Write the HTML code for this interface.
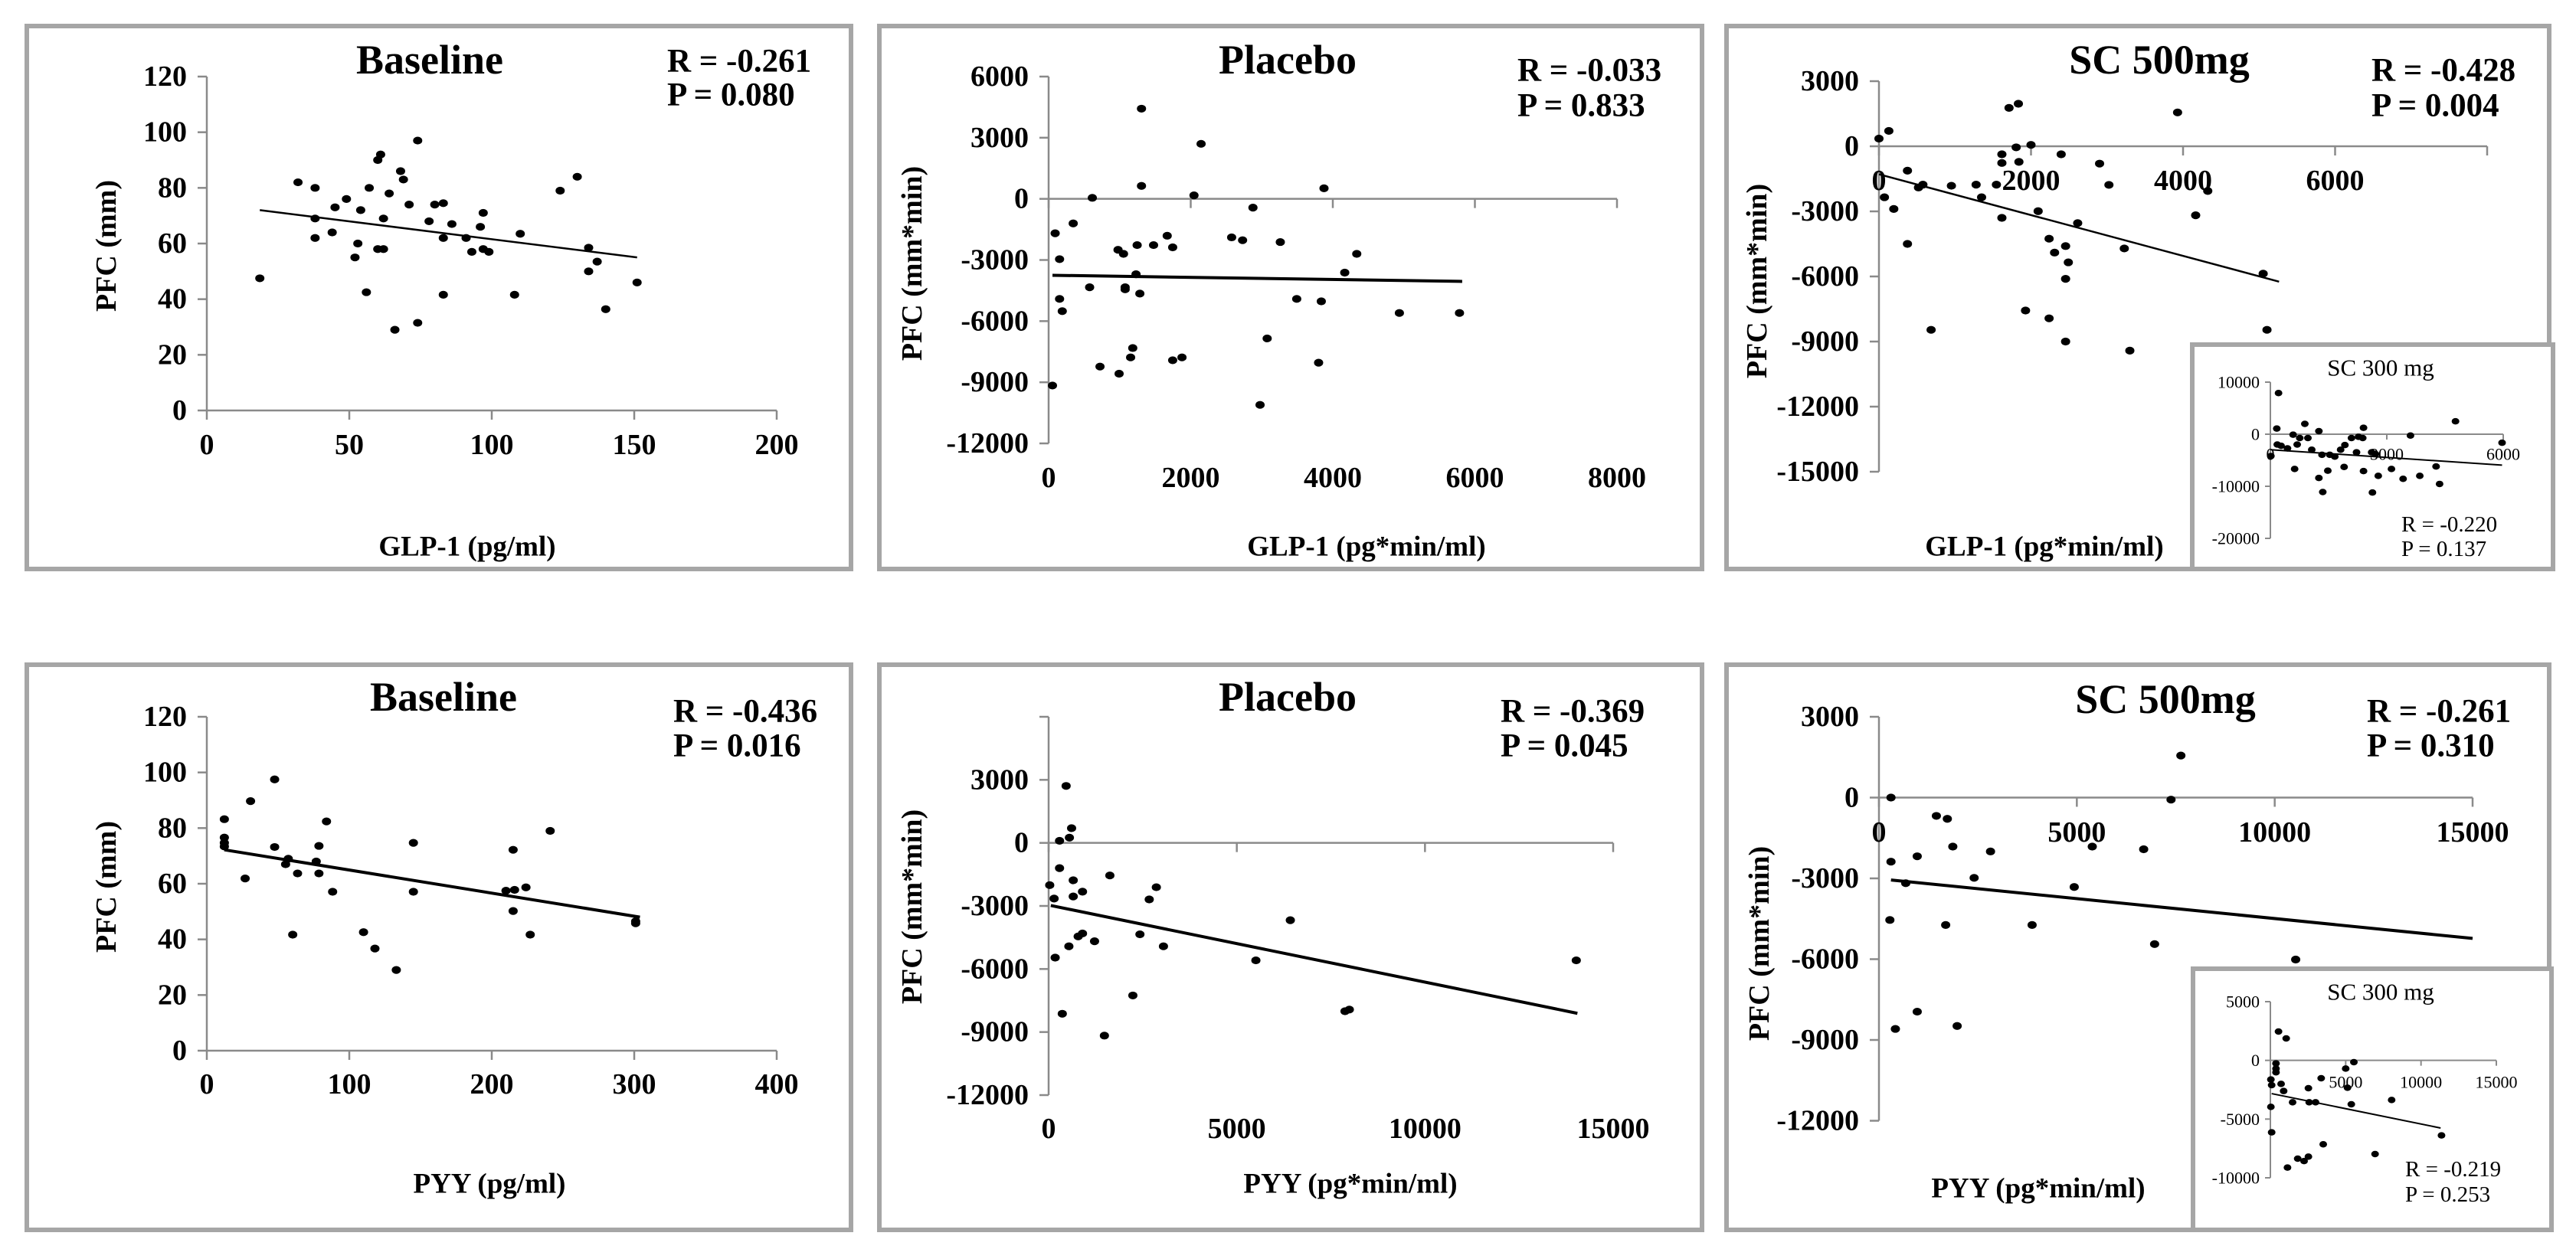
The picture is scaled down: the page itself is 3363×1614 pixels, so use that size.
<!DOCTYPE html>
<html><head><meta charset="utf-8"><title>PFC correlations</title>
<style>
html,body{margin:0;padding:0;background:#fff;}
svg{display:block;font-family:"Liberation Serif",serif;}
</style></head>
<body>
<svg id="chart" width="3363" height="1614" viewBox="0 0 3363 1614" xmlns="http://www.w3.org/2000/svg">
<rect x="0" y="0" width="3363" height="1614" fill="#fff"/>
</svg>
<script>
// ---------- data ----------
const p1X = [18.6,32,38,38,38,45,44,49,53,52,54,57,56,60,61,60,62,62,64,66,68,69,71,74,74,78,80,83,83,83,86,91,93,96,97,97,99,108,110,124,130,134,134,137,140,151];
const p1Y = [47.5,82,80,69,62,73,64,76,60,55,72,80,42.5,90,92,58,58,69,78,29,86,83,74,97,31.5,68,74,74.5,62,41.6,67,62,57,66,71,58,57,41.6,63.5,79,84,58.5,50,53.5,36.4,46];
const p1TrendX = [18.6,151];
const p1TrendY = [72,55];

const p2X = [54,92,154,154,192,346,577,615,723,977,992,1054,1077,1077,1154,1184,1230,1246,1284,1307,1307,1477,1669,1746,1746,1877,2046,2146,2576,2730,2876,2976,3076,3261,3492,3800,3838,3876,4168,4337,4937,5783];
const p2Y = [-9160,-1690,-2960,-4910,-5510,-1205,-4340,50,-8230,-2500,-8580,-2700,-4340,-4440,-7780,-7320,-3700,-2270,-4650,4425,637,-2270,-1810,-2380,-7920,-7780,172,2700,-1890,-2030,-430,-10110,-6850,-2120,-4910,-8040,-5030,517,-3620,-2700,-5600,-5600];
const p2TrendX = [54,5821];
const p2TrendY = [-3750,-4050];

const p3X = [0,130,72,195,375,375,520,578,686,953,1278,1350,1545,1617,1617,1617,1711,1834,1805,1841,2000,1928,2094,2238,2238,2310,2397,2455,2491,2455,2455,2614,2902,3025,3227,3300,3928,4166,4325,5054,5104];
const p3Y = [354,708,-2350,-2890,-1125,-4500,-1900,-1770,-8460,-1820,-1770,-2350,-1770,-370,-770,-3300,1770,1960,-50,-720,64,-7570,-2990,-7930,-4260,-4900,-370,-4600,-5350,-6110,-9000,-3540,-800,-1780,-4710,-9420,1560,-3180,-2060,-5870,-8460];
const p3TrendX = [0,5263];
const p3TrendY = [-1290,-6240];

const in1X = [210,165,13,178,276,441,586,625,691,757,888,967,1066,1250,1250,1350,1330,1480,1530,1660,1810,1900,1920,2090,2220,2270,2380,2400,2400,2610,2710,2630,2780,3120,3420,3610,3850,4270,4360,4770,5970];
const in1Y = [7900,1090,-4200,-1980,-2230,-2720,-100,-6680,-1980,-740,1980,-740,-2970,590,-8400,-11100,-3960,-7000,-3960,-4300,-2970,-6280,-2080,-740,-3470,-490,-740,1240,-7080,-3470,-3810,-11200,-8000,-6680,-8560,-250,-8000,-6190,-9550,2475,-1630];
const in1TrendX = [0,5970];
const in1TrendY = [-2970,-5940];

const p4X = [12.3,12.3,12.3,12.3,26.9,30.7,47.6,47.6,55.3,57.2,60.3,63.7,76.8,78.7,78.7,84,88.3,110,118,133,145,145,210,215,216,215,224,227,241,301,301];
const p4Y = [83.2,76.6,74.7,73.4,61.9,89.7,97.5,73.2,67,69,41.7,63.7,68,73.6,63.7,82.4,57.1,42.6,36.7,29,74.7,57.1,57.5,72.2,57.8,50.2,58.7,41.7,79,46.5,45.8];
const p4TrendX = [12.3,304];
const p4TrendY = [72.2,48];

const p5X = [29,145,174,290,290,363,465,552,610,538,654,654,785,900,900,1220,1482,1627,2238,2426,2673,2862,3051,5507,6422,7875,7990,14020];
const p5Y = [-2010,-2650,-5460,100,-1200,-8130,2710,250,700,-4920,-1780,-2550,-4450,-4310,-2320,-4680,-9170,-1550,-7260,-4350,-2690,-2110,-4920,-5590,-3680,-8010,-7930,-5590];
const p5TrendX = [58,14050];
const p5TrendY = [-2980,-8110];

const p6X = [304,304,276,415,677,967,967,1451,1728,1686,1866,1976,2405,2819,3870,4934,5390,6689,6965,7380,7629,10530];
const p6Y = [0,-2380,-4545,-8590,-3180,-2180,-7950,-680,-790,-4730,-1820,-8480,-2980,-2000,-4730,-3320,-1820,-1920,-5440,-76,1560,-6015];
const p6TrendX = [304,15000];
const p6TrendY = [-3060,-5230];

const in2X = [540,1050,373,373,373,34,85,712,881,1475,2525,2576,3000,3373,34,85,1136,1814,2237,2525,3509,5000,5543,5119,5373,6950,8050,11360];
const in2Y = [2460,1870,-260,-700,-1020,-1630,-2110,-2000,-2610,-3570,-2370,-3570,-3570,-1520,-3960,-6130,-9130,-8370,-8570,-8200,-7150,-700,-150,-2330,-3740,-7980,-3370,-6390];
const in2TrendX = [85,11300];
const in2TrendY = [-2830,-5760];

// tick values / labels
const p1XTicks = [0,50,100,150,200];
const p1YTicks = [0,20,40,60,80,100,120];
const p2XTicks = [0,2000,4000,6000,8000];
const p2YTicks = [6000,3000,0,-3000,-6000,-9000,-12000];
const p3XTicks = [0,2000,4000,6000,8000];
const p3XLabels = [0,2000,4000,6000];
const p3YTicks = [3000,0,-3000,-6000,-9000,-12000,-15000];
const in1XTicks = [0,3000,6000];
const in1XLabels = [0,3000,6000];
const in1YTicks = [10000,0,-10000,-20000];
const p4XTicks = [0,100,200,300,400];
const p4YTicks = [0,20,40,60,80,100,120];
const p5XTicks = [0,5000,10000,15000];
const p5YTicks = [6000,3000,0,-3000,-6000,-9000,-12000];
const p5YLabels = [3000,0,-3000,-6000,-9000,-12000];
const p6XTicks = [0,5000,10000,15000];
const p6YTicks = [3000,0,-3000,-6000,-9000,-12000];
const in2XTicks = [0,5000,10000,15000];
const in2XLabels = [5000,10000,15000];
const in2YTicks = [5000,0,-5000,-10000];

// ---------- drawing ----------
const NS = 'http://www.w3.org/2000/svg';
const svg = document.getElementById('chart');
function mk(tag, attrs, parent) {
  const e = document.createElementNS(NS, tag);
  for (const k in attrs) e.setAttribute(k, attrs[k]);
  (parent || svg).appendChild(e);
  return e;
}
function box(x, y, w, h, bw, name) {
  const r = mk('rect', {x: x + bw / 2, y: y + bw / 2, width: w - bw, height: h - bw, fill: '#fff', stroke: '#a6a6a6', 'stroke-width': bw});
  
  
  return r;
}
function txt(x, y, s, size, weight, anchor, name, rot) {
  const t = mk('text', {x: x, y: y, 'font-size': size, 'font-weight': weight, 'text-anchor': anchor, 'dominant-baseline': 'central', fill: '#000'});
  if (rot) t.setAttribute('transform', 'rotate(-90 ' + x + ' ' + y + ')');
  t.textContent = s;
  
  
  return t;
}
function plot(cfg, xs, ys, tx, ty, xTicks, yTicks, xLabels, yLabels) {
  const g = mk('g', {});
  
  
  const sx = v => cfg.px0 + (v - cfg.xmin) / (cfg.xmax - cfg.xmin) * (cfg.px1 - cfg.px0);
  const sy = v => cfg.py0 + (cfg.ymax - v) / (cfg.ymax - cfg.ymin) * (cfg.py1 - cfg.py0);
  const axY = sy(cfg.xAxisAt);
  const tl = cfg.tickLen;
  const yTop = sy(Math.max(...yTicks)), yBot = sy(Math.min(...yTicks));
  const ya = mk('line', {x1: cfg.px0, y1: yTop, x2: cfg.px0, y2: yBot, stroke: '#8a8a8a', 'stroke-width': cfg.axisW}, g);
  
  
  const xa = mk('line', {x1: cfg.px0, y1: axY, x2: sx(Math.max(...xTicks)), y2: axY, stroke: '#8a8a8a', 'stroke-width': cfg.axisW}, g);
  
  
  yTicks.forEach(v => {
    const t = mk('line', {x1: cfg.px0 - tl, y1: sy(v), x2: cfg.px0, y2: sy(v), stroke: '#8a8a8a', 'stroke-width': cfg.axisW}, g);
    
    
  });
  xTicks.forEach(v => {
    const t = mk('line', {x1: sx(v), y1: axY, x2: sx(v), y2: axY + tl, stroke: '#8a8a8a', 'stroke-width': cfg.axisW}, g);
    
    
  });
  (yLabels || yTicks).forEach(v => {
    const t = txt(cfg.px0 - cfg.yLabGap, sy(v), String(v), cfg.tickFont, cfg.tickWeight, 'end', 'y-tick-label');
    g.appendChild(t);
  });
  (xLabels || xTicks).forEach(v => {
    const t = txt(sx(v), cfg.xLabY, String(v), cfg.tickFont, cfg.tickWeight, 'middle', 'x-tick-label');
    g.appendChild(t);
  });
  const tr = mk('line', {x1: sx(tx[0]), y1: sy(ty[0]), x2: sx(tx[1]), y2: sy(ty[1]), stroke: '#000', 'stroke-width': cfg.trendW}, g);
  
  
  xs.forEach((v, i) => {
    const c = mk('ellipse', {cx: sx(v), cy: sy(ys[i]), rx: cfg.dot, ry: cfg.dot * 0.85, fill: '#000'}, g);
    
    
  });
}
const main = {tickLen: 12, axisW: 2.5, tickFont: 38, tickWeight: 'bold', yLabGap: 26, dot: 6};
const inset = {tickLen: 7, axisW: 2, tickFont: 22, tickWeight: 'normal', yLabGap: 14, dot: 5};
const TF = 54, RF = 43, XF = 37;

// panel boxes
box(32, 31, 1082, 715, 6, 'panel-glp1-baseline');
box(1145, 31, 1080, 715, 6, 'panel-glp1-placebo');
box(2251, 31, 1080, 715, 6, 'panel-glp1-sc500');
box(32, 865, 1082, 744, 6, 'panel-pyy-baseline');
box(1145, 865, 1080, 744, 6, 'panel-pyy-placebo');
box(2251, 865, 1080, 744, 6, 'panel-pyy-sc500');

// Panel 1
plot(Object.assign({name: 'plot-glp1-baseline', px0: 270, px1: 1014, xmin: 0, xmax: 200, py0: 100, py1: 536, ymax: 120, ymin: 0, xAxisAt: 0, xLabY: 581, trendW: 2.5}, main), p1X, p1Y, p1TrendX, p1TrendY, p1XTicks, p1YTicks);
txt(561, 78, 'Baseline', TF, 'bold', 'middle', 'title-glp1-baseline');
txt(871, 80, 'R = -0.261', RF, 'bold', 'start', 'r-value');
txt(871, 124, 'P = 0.080', RF, 'bold', 'start', 'p-value');
txt(139, 321, 'PFC (mm)', 38, 'bold', 'middle', 'y-axis-title', true);
txt(610, 714, 'GLP-1 (pg/ml)', XF, 'bold', 'middle', 'x-axis-title');

// Panel 2
plot(Object.assign({name: 'plot-glp1-placebo', px0: 1369, px1: 2111, xmin: 0, xmax: 8000, py0: 100, py1: 579, ymax: 6000, ymin: -12000, xAxisAt: 0, xLabY: 624, trendW: 4}, main), p2X, p2Y, p2TrendX, p2TrendY, p2XTicks, p2YTicks);
txt(1681, 78, 'Placebo', TF, 'bold', 'middle', 'title-glp1-placebo');
txt(1981, 92, 'R = -0.033', RF, 'bold', 'start', 'r-value');
txt(1981, 138, 'P = 0.833', RF, 'bold', 'start', 'p-value');
txt(1191, 344, 'PFC (mm*min)', 38, 'bold', 'middle', 'y-axis-title', true);
txt(1784, 714, 'GLP-1 (pg*min/ml)', XF, 'bold', 'middle', 'x-axis-title');

// Panel 3
plot(Object.assign({name: 'plot-glp1-sc500', px0: 2453, px1: 3247, xmin: 0, xmax: 8000, py0: 106, py1: 616, ymax: 3000, ymin: -15000, xAxisAt: 0, xLabY: 236, trendW: 2.5}, main), p3X, p3Y, p3TrendX, p3TrendY, p3XTicks, p3YTicks, p3XLabels);
txt(2819, 78, 'SC 500mg', TF, 'bold', 'middle', 'title-glp1-sc500');
txt(3096, 92, 'R = -0.428', RF, 'bold', 'start', 'r-value');
txt(3096, 138, 'P = 0.004', RF, 'bold', 'start', 'p-value');
txt(2294, 367, 'PFC (mm*min)', 38, 'bold', 'middle', 'y-axis-title', true);
txt(2669, 714, 'GLP-1 (pg*min/ml)', XF, 'bold', 'middle', 'x-axis-title');

// Inset 1
box(2859, 447, 477, 299, 6, 'inset-glp1-sc300');
plot(Object.assign({name: 'plot-inset-glp1-sc300', px0: 2964, px1: 3268, xmin: 0, xmax: 6000, py0: 499, py1: 703, ymax: 10000, ymin: -20000, xAxisAt: 0, xLabY: 593, trendW: 2}, inset), in1X, in1Y, in1TrendX, in1TrendY, in1XTicks, in1YTicks, in1XLabels);
txt(3108, 480, 'SC 300 mg', 31, 'normal', 'middle', 'inset-title');
txt(3135, 685, 'R = -0.220', 29, 'normal', 'start', 'inset-r-value');
txt(3135, 717, 'P = 0.137', 29, 'normal', 'start', 'inset-p-value');

// Panel 4
plot(Object.assign({name: 'plot-pyy-baseline', px0: 270, px1: 1014, xmin: 0, xmax: 400, py0: 936, py1: 1372, ymax: 120, ymin: 0, xAxisAt: 0, xLabY: 1416, trendW: 4}, main), p4X, p4Y, p4TrendX, p4TrendY, p4XTicks, p4YTicks);
txt(579, 910, 'Baseline', TF, 'bold', 'middle', 'title-pyy-baseline');
txt(879, 929, 'R = -0.436', RF, 'bold', 'start', 'r-value');
txt(879, 974, 'P = 0.016', RF, 'bold', 'start', 'p-value');
txt(139, 1158, 'PFC (mm)', 38, 'bold', 'middle', 'y-axis-title', true);
txt(639, 1546, 'PYY  (pg/ml)', XF, 'bold', 'middle', 'x-axis-title');

// Panel 5
plot(Object.assign({name: 'plot-pyy-placebo', px0: 1369, px1: 2106, xmin: 0, xmax: 15000, py0: 936, py1: 1430, ymax: 6000, ymin: -12000, xAxisAt: 0, xLabY: 1474, trendW: 4}, main), p5X, p5Y, p5TrendX, p5TrendY, p5XTicks, p5YTicks, null, p5YLabels);
txt(1681, 910, 'Placebo', TF, 'bold', 'middle', 'title-pyy-placebo');
txt(1959, 929, 'R = -0.369', RF, 'bold', 'start', 'r-value');
txt(1959, 974, 'P = 0.045', RF, 'bold', 'start', 'p-value');
txt(1191, 1184, 'PFC (mm*min)', 38, 'bold', 'middle', 'y-axis-title', true);
txt(1763, 1546, 'PYY  (pg*min/ml)', XF, 'bold', 'middle', 'x-axis-title');

// Panel 6
plot(Object.assign({name: 'plot-pyy-sc500', px0: 2453, px1: 3228, xmin: 0, xmax: 15000, py0: 936, py1: 1463.5, ymax: 3000, ymin: -12000, xAxisAt: 0, xLabY: 1087, trendW: 4}, main), p6X, p6Y, p6TrendX, p6TrendY, p6XTicks, p6YTicks);
txt(2827, 913, 'SC 500mg', TF, 'bold', 'middle', 'title-pyy-sc500');
txt(3090, 929, 'R = -0.261', RF, 'bold', 'start', 'r-value');
txt(3090, 974, 'P = 0.310', RF, 'bold', 'start', 'p-value');
txt(2297, 1232, 'PFC (mm*min)', 38, 'bold', 'middle', 'y-axis-title', true);
txt(2661, 1552, 'PYY  (pg*min/ml)', XF, 'bold', 'middle', 'x-axis-title');

// Inset 2
box(2860, 1262, 474, 347, 6, 'inset-pyy-sc300');
plot(Object.assign({name: 'plot-inset-pyy-sc300', px0: 2964, px1: 3259, xmin: 0, xmax: 15000, py0: 1308, py1: 1538, ymax: 5000, ymin: -10000, xAxisAt: 0, xLabY: 1413, trendW: 2}, inset), in2X, in2Y, in2TrendX, in2TrendY, in2XTicks, in2YTicks, in2XLabels);
txt(3108, 1295, 'SC 300 mg', 31, 'normal', 'middle', 'inset-title');
txt(3140, 1527, 'R = -0.219', 29, 'normal', 'start', 'inset-r-value');
txt(3140, 1560, 'P = 0.253', 29, 'normal', 'start', 'inset-p-value');
</script>
</body></html>
